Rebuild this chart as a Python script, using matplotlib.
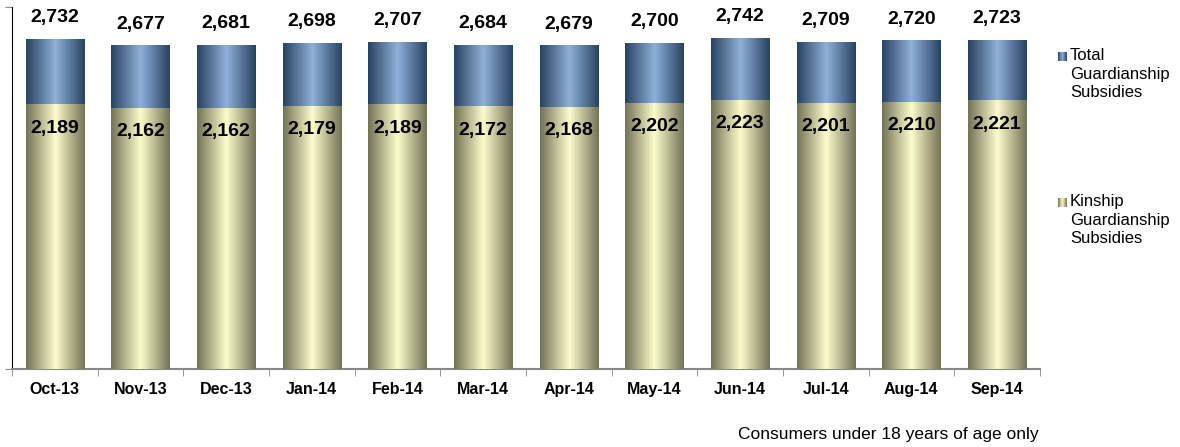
import numpy as np
import matplotlib.pyplot as plt
from matplotlib.colors import LinearSegmentedColormap

months = ['Oct-13', 'Nov-13', 'Dec-13', 'Jan-14', 'Feb-14', 'Mar-14',
          'Apr-14', 'May-14', 'Jun-14', 'Jul-14', 'Aug-14', 'Sep-14']
total = [2732, 2677, 2681, 2698, 2707, 2684, 2679, 2700, 2742, 2709, 2720, 2723]
kinship = [2189, 2162, 2162, 2179, 2189, 2172, 2168, 2202, 2223, 2201, 2210, 2221]
legend_labels = ['Total\nGuardianship\nSubsidies', 'Kinship\nGuardianship\nSubsidies']

plt.rcParams['font.family'] = ['Liberation Sans', 'DejaVu Sans']

blue_cm = LinearSegmentedColormap.from_list('b', ['#284262', '#8fb0d8', '#284262'])
olive_cm = LinearSegmentedColormap.from_list('o', ['#727256', '#fcfccc', '#727256'])
grad = np.linspace(0, 1, 256).reshape(1, -1)


def fill_gradient(ax, bars, cmap):
    for b in bars:
        x0, w = b.get_x(), b.get_width()
        y0, h = b.get_y(), b.get_height()
        ax.imshow(grad, cmap=cmap, aspect='auto', extent=(x0, x0 + w, y0, y0 + h),
                  zorder=b.get_zorder(), interpolation='bicubic')
        b.set_facecolor('none')


fig = plt.figure(figsize=(11.8, 4.47), dpi=100)
ax = fig.add_axes([0.0102, 0.174, 0.871, 0.81])

x = np.arange(len(months))
b_tot = ax.bar(x, total, width=0.68, zorder=2)
b_kin = ax.bar(x, kinship, width=0.68, zorder=3)
fill_gradient(ax, b_tot, blue_cm)
fill_gradient(ax, b_kin, olive_cm)

for i in range(len(months)):
    ax.text(x[i], total[i] + 110, f'{total[i]:,}', ha='center', va='bottom',
            fontsize=14, fontweight='bold', zorder=5)
    ax.text(x[i], kinship[i] - 120, f'{kinship[i]:,}', ha='center', va='top',
            fontsize=14, fontweight='bold', zorder=5)

ax.set_xlim(-0.5, len(months) - 0.5)
ax.set_ylim(0, 3000)
ax.set_xticks(x)
ax.set_xticklabels(months, fontsize=11.5, fontweight='bold')
ax.set_xticks(np.arange(len(months) + 1) - 0.5, minor=True)
ax.tick_params(axis='x', which='major', length=0, pad=9)
ax.tick_params(axis='x', which='minor', length=5, color='#888888', direction='out')
ax.set_yticks([0, 3000])
ax.set_yticklabels([])
ax.tick_params(axis='y', length=5, color='#888888', direction='out')
ax.spines['top'].set_visible(False)
ax.spines['right'].set_visible(False)
ax.spines['left'].set_color('black')
ax.spines['bottom'].set_color('#888888')
ax.spines['bottom'].set_linewidth(1.5)

# legend: small gradient squares + multi-line labels
W, H = 1180, 447
for label, cmap, top in zip(legend_labels, [blue_cm, olive_cm], [48, 194]):
    sq = fig.add_axes([1058 / W, 1 - (top + 13) / H, 9 / W, 9 / H])
    sq.imshow(grad, cmap=cmap, aspect='auto', interpolation='bicubic')
    sq.axis('off')
    fig.text(1070 / W, 1 - top / H, label, ha='left', va='top', fontsize=12,
             linespacing=1.3)

fig.text(0.88, 0.012, 'Consumers under 18 years of age only', ha='right', va='bottom',
         fontsize=12.5)

fig.savefig('out.png', dpi=100)
